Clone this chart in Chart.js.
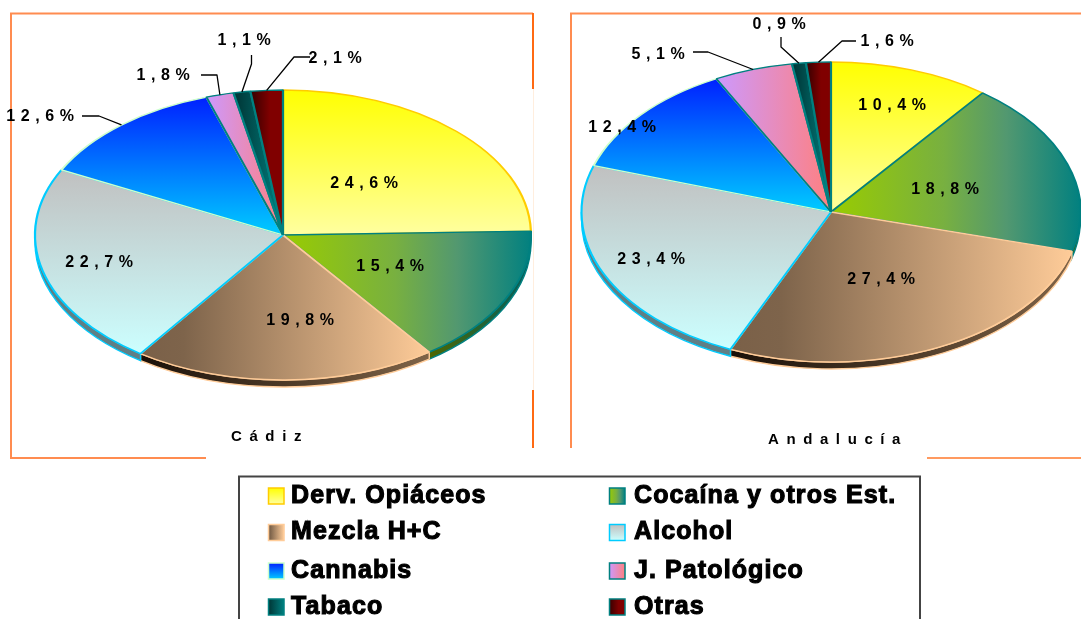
<!DOCTYPE html>
<html><head><meta charset="utf-8">
<style>html,body{margin:0;padding:0;background:#fff;overflow:hidden}
canvas{position:absolute;left:0;top:0}</style>
<script src="https://cdn.jsdelivr.net/npm/chart.js@4"></script>
</head><body>
<canvas id="c1" width="1081" height="619"></canvas>
<canvas id="c2" width="1081" height="619"></canvas>
<script>
const categories = ['Derv. Opiáceos','Cocaína y otros Est.','Mezcla H+C','Alcohol','Cannabis','J. Patológico','Tabaco','Otras'];
const cadizValues = [24.6,15.4,19.8,22.7,12.6,1.8,1.1,2.1];
const andaluciaValues = [10.4,18.8,27.4,23.4,12.4,5.1,0.9,1.6];
const chartTitles = ['Cádiz','Andalucía'];

// styling: [gradient direction, colour stops, border]
const fills = [
 ['v',[[0,'#ffff00'],[1,'#ffffa0']],'#ffcc00'],
 ['h',[[0,'#99cc00'],[0.45,'#78b040'],[0.7,'#529870'],[1,'#008080']],'#008080'],
 ['h',[[0,'#7a6048'],[0.15,'#7e644b'],[1,'#ffcc99']],'#ffcc99'],
 ['v',[[0,'#c0c0c0'],[1,'#ccffff']],'#00ccff'],
 ['v',[[0,'#0020ff'],[1,'#00ccff']],'#ccffcc'],
 ['h',[[0,'#cc99ff'],[1,'#ff8080']],'#008080'],
 ['h',[[0,'#003333'],[1,'#008080']],'#008080'],
 ['h',[[0,'#330000'],[0.6,'#800000'],[1,'#800000']],'#008080']
];
const walls = [
 ['#808000','#808050','#ffcc00'],
 ['#4d6600','#006060','#008080'],
 ['#1a1008','#806448','#ffcc99'],
 ['#5f7f85','#607f85','#00ccff'],
 ['#0000a0','#0060a0','#ccffcc'],
 ['#806080','#804040','#008080'],
 ['#001a1a','#004040','#008080'],
 ['#1a0000','#400000','#008080']
];
const geomCadiz = {cx:283,cy:235,rx:248,ry:145,depth:7};
const geomAnd = {cx:831,cy:212,rx:249.5,ry:150,depth:7};
const posCadiz = [[365,184],[391,267],[301,321],[100,263],[41,117],[164,76],[245,41],[336,59]];
const posAnd = [[893,106],[946,190],[882,280],[652,260],[623,128],[659,55],[780,25],[888,42]];
// leader lines: slice index -> elbow points from the label to the slice rim
const leadCadiz = {4:[[82,116],[99,116]],5:[[201,75],[217,75]],6:[[251.5,55],[251.5,64]],7:[[310,57],[294,57]]};
const leadAnd = {5:[[693,52],[708,52]],6:[[781,37],[781,47]],7:[[856,41],[842,41]]};
const titlePos = [[267,437],[835,440]];
const LABEL_FONT = 'bold 16px "Liberation Sans", Arial, sans-serif';

function addStops(g,stops){stops.forEach(s=>g.addColorStop(s[0],s[1]));return g;}

function sliceGradient(chart,i,values){
  const ca = chart.chartArea;
  if(!ca) return fills[i][1][0][1];
  const cx=(ca.left+ca.right)/2, cy=(ca.top+ca.bottom)/2, r=Math.min(ca.right-ca.left,ca.bottom-ca.top)/2;
  const tot=values.reduce((a,b)=>a+b,0);
  let c=0; for(let k=0;k<i;k++) c+=values[k];
  const a0=-Math.PI/2+c/tot*2*Math.PI, a1=-Math.PI/2+(c+values[i])/tot*2*Math.PI;
  let xs=[cx,cx+r*Math.cos(a0),cx+r*Math.cos(a1)], ys=[cy,cy+r*Math.sin(a0),cy+r*Math.sin(a1)];
  for(let q=-4;q<=8;q++){const a=q*Math.PI/2; if(a>a0&&a<a1){xs.push(cx+r*Math.cos(a));ys.push(cy+r*Math.sin(a));}}
  const f=fills[i];
  const g = f[0]==='v'
    ? chart.ctx.createLinearGradient(0,Math.min(...ys),0,Math.max(...ys))
    : chart.ctx.createLinearGradient(Math.min(...xs),0,Math.max(...xs),0);
  return addStops(g,f[1]);
}

function pieChart(id,values,geom,positions,leaders,titleIdx,extra){
  const pl={
    id:'pseudo3d',
    beforeDatasetsDraw(chart){
      const ctx=chart.ctx, meta=chart.getDatasetMeta(0);
      const {cx,cy,rx,ry,depth}=geom;
      meta.data.forEach((arc,i)=>{
        const p=arc.getProps(['startAngle','endAngle']);
        const a=Math.max(p.startAngle,0), b=Math.min(p.endAngle,Math.PI);
        if(b<=a) return;
        const g=ctx.createLinearGradient(cx+rx*Math.cos(b),0,cx+rx*Math.cos(a),0);
        g.addColorStop(0,walls[i][0]); g.addColorStop(1,walls[i][1]);
        ctx.save();
        ctx.beginPath();
        ctx.ellipse(cx,cy,rx,ry,0,a,b,false);
        ctx.ellipse(cx,cy+depth,rx,ry,0,b,a,true);
        ctx.closePath();
        ctx.fillStyle=g; ctx.fill();
        ctx.strokeStyle=walls[i][2]; ctx.lineWidth=1.4; ctx.stroke();
        ctx.restore();
      });
      const r=meta.data[0].getProps(['outerRadius','x','y']);
      ctx.save();
      ctx.translate(cx,cy); ctx.scale(rx/r.outerRadius,ry/r.outerRadius); ctx.translate(-r.x,-r.y);
    },
    afterDatasetsDraw(chart){
      const ctx=chart.ctx; ctx.restore();
      const {cx,cy,rx,ry}=geom, meta=chart.getDatasetMeta(0);
      ctx.save();
      ctx.strokeStyle='#000'; ctx.lineWidth=1.3; ctx.lineJoin='round';
      Object.keys(leaders).forEach(k=>{
        const p=meta.data[k].getProps(['startAngle','endAngle']);
        const m=(p.startAngle+p.endAngle)/2;
        ctx.beginPath();
        leaders[k].forEach((q,n)=> n?ctx.lineTo(q[0],q[1]):ctx.moveTo(q[0],q[1]));
        ctx.lineTo(cx+rx*Math.cos(m),cy+ry*Math.sin(m));
        ctx.stroke();
      });
      ctx.fillStyle='#000'; ctx.font=LABEL_FONT; ctx.textAlign='center'; ctx.textBaseline='middle';
      ctx.letterSpacing='5.6px';
      values.forEach((v,i)=>{
        ctx.fillText(v.toFixed(1).replace('.',',')+'%',positions[i][0]+2,positions[i][1]);
      });
      ctx.font='bold 15px "Liberation Sans", Arial, sans-serif';
      ctx.letterSpacing='7.6px';
      ctx.fillText(chartTitles[titleIdx],titlePos[titleIdx][0]+3,titlePos[titleIdx][1]);
      ctx.restore();
    }
  };
  return new Chart(document.getElementById(id),{
    type:'pie',
    data:{labels:categories,datasets:[{
      data:values,clip:false,
      backgroundColor:c=>sliceGradient(c.chart,c.dataIndex,values),
      borderColor:fills.map(f=>f[2]),
      borderWidth:1.3
    }]},
    options:{
      responsive:false,animation:false,devicePixelRatio:1,events:[],
      layout:{padding:{left:geom.cx-geom.ry,right:1081-geom.cx-geom.ry,top:geom.cy-geom.ry,bottom:619-geom.cy-geom.ry}},
      plugins:{legend:{display:false},tooltip:{enabled:false},title:{display:false}}
    },
    plugins:extra?[pl,extra]:[pl]
  });
}

// frames and legend, drawn on the first chart's canvas
const frameAndLegend={
  id:'frameAndLegend',
  beforeDraw(chart){
    const ctx=chart.ctx;
    const seg=(pts,col,w)=>{ctx.beginPath();pts.forEach((p,i)=>i?ctx.lineTo(p[0],p[1]):ctx.moveTo(p[0],p[1]));ctx.strokeStyle=col;ctx.lineWidth=w;ctx.stroke();};
    ctx.save();
    seg([[206,458],[11,458],[11,13.5],[533,13.5]],'#ff8c50',2);
    seg([[533,13],[533,89]],'#ff6a13',2);
    seg([[533,390],[533,448]],'#ff6a13',2);
    seg([[533.5,89],[533.5,390]],'#ffeede',1);
    seg([[571,448],[571,13.5],[1081,13.5]],'#ff8c50',2);
    seg([[927,458],[1081,458]],'#ff9a60',2);
    seg([[239,619],[239,476.5],[920,476.5],[920,619]],'#444444',2);
    const xs=[268,609], tx=[291,634], ys=[496,532.5,571,607];
    categories.forEach((c,i)=>{
      const col=i%2,row=(i-col)/2, x=xs[col], y=ys[row];
      const f=fills[i];
      const g= f[0]==='v'?ctx.createLinearGradient(0,y-8,0,y+8):ctx.createLinearGradient(x,0,x+16,0);
      addStops(g,f[1]);
      ctx.fillStyle=g;ctx.fillRect(x+.5,y-8,15.5,16);
      ctx.strokeStyle=f[2];ctx.lineWidth=1.5;ctx.strokeRect(x+.5,y-8,15.5,16);
      ctx.fillStyle='#000';ctx.strokeStyle='#000';ctx.lineWidth=1.1;
      ctx.font='bold 25px "Liberation Sans", Arial, sans-serif';
      ctx.letterSpacing='1.1px';ctx.textAlign='left';ctx.textBaseline='middle';
      ctx.fillText(c,tx[col],y);ctx.strokeText(c,tx[col],y);
      ctx.letterSpacing='0px';
    });
    ctx.restore();
  }
};

pieChart('c1',cadizValues,geomCadiz,posCadiz,leadCadiz,0,frameAndLegend);
pieChart('c2',andaluciaValues,geomAnd,posAnd,leadAnd,1,null);
</script>
</body></html>
